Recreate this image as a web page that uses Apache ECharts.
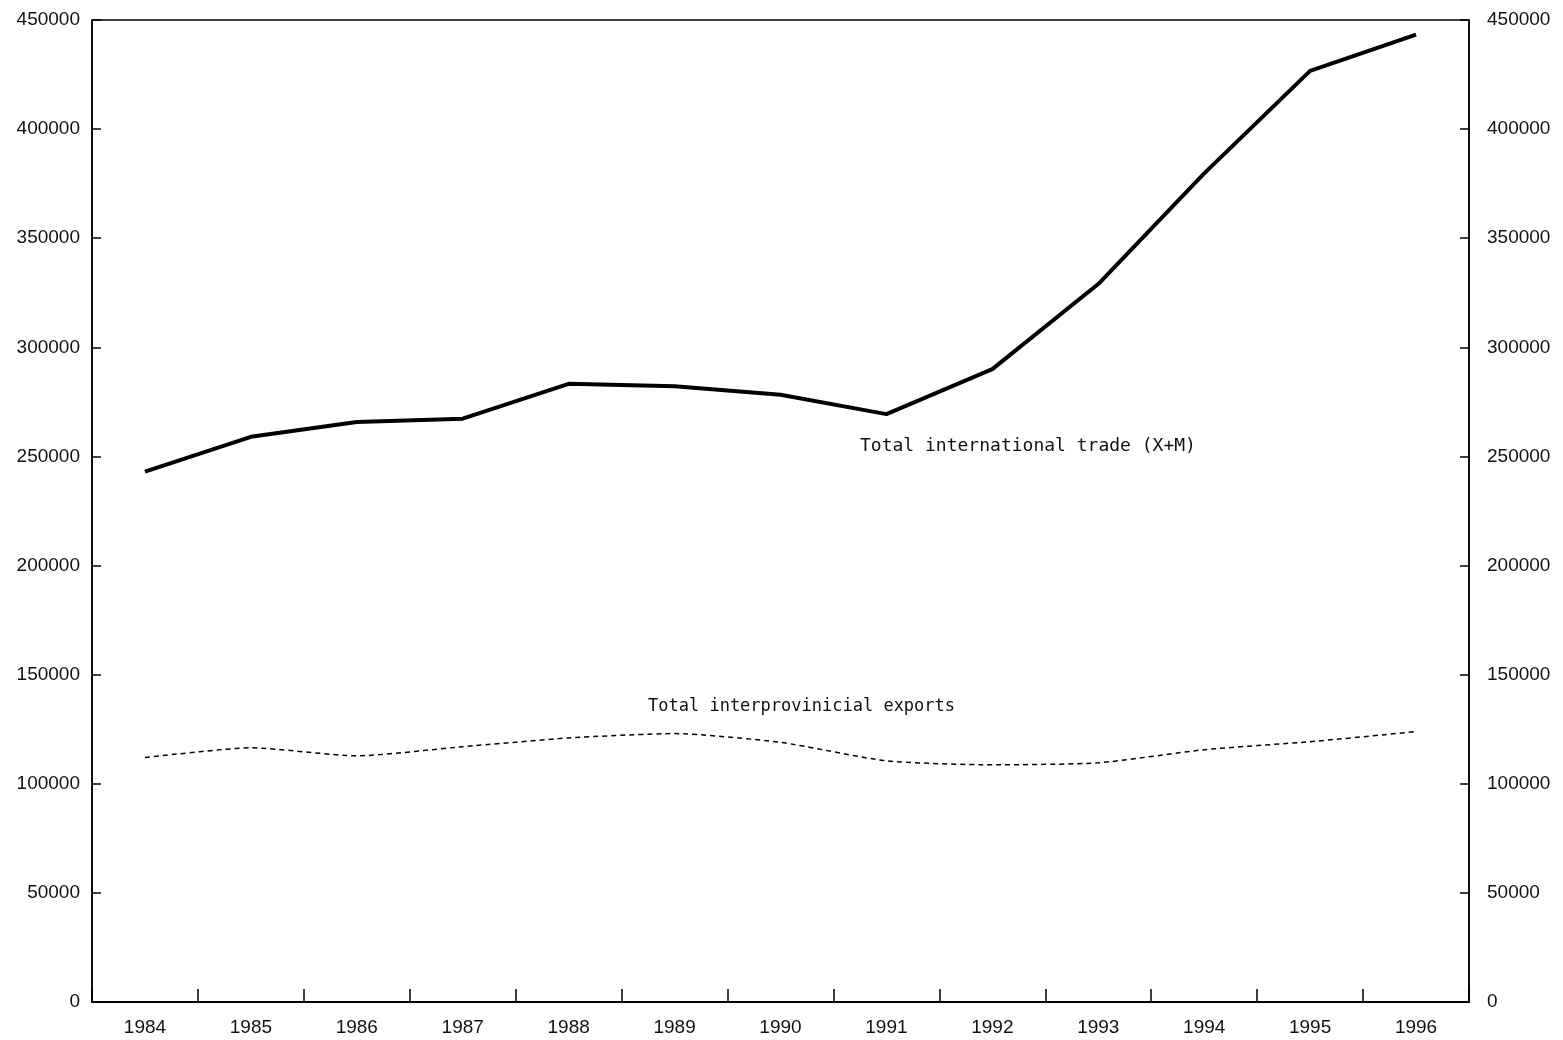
<!DOCTYPE html>
<html>
<head>
<meta charset="utf-8">
<script src="https://cdn.jsdelivr.net/npm/echarts@6/dist/echarts.min.js"></script>
<style>html,body{margin:0;padding:0;background:#fff;}#chart{width:1563px;height:1040px;}</style>
</head>
<body>
<div id="chart"></div>
<script>
const years = ['1984','1985','1986','1987','1988','1989','1990','1991','1992','1993','1994','1995','1996'];
const internationalTrade = [243000, 259000, 265800, 267300, 283300, 282200, 278300, 269400, 290000, 329000, 379700, 426700, 443300];
const interprovincialExports = [112000, 116500, 112800, 117000, 121000, 123000, 119000, 110500, 108700, 109600, 115600, 119300, 123900];
const yTicks = {min: 0, max: 450000, interval: 50000};
const labelTrade = 'Total international trade (X+M)';
const labelInterprov = 'Total interprovinicial exports';

const chart = echarts.init(document.getElementById('chart'));
const axisFont = {fontFamily: 'Liberation Sans', fontSize: 19, color: '#111'};
function yAxisDef(pos){
  return {
    type: 'value', position: pos, min: yTicks.min, max: yTicks.max, interval: yTicks.interval,
    axisLine: {show: true, lineStyle: {color: '#000', width: 1.5}},
    axisTick: {show: true, inside: true, length: 9, lineStyle: {color: '#000', width: 1.5}},
    splitLine: {show: false},
    axisLabel: Object.assign({margin: pos === 'left' ? 12 : 18, formatter: v => String(v)}, axisFont)
  };
}
chart.setOption({
  animation: false,
  backgroundColor: '#fff',
  grid: {left: 92, right: 94, top: 20, bottom: 38, show: true, borderColor: '#000', borderWidth: 1.5, containLabel: false},
  xAxis: {
    type: 'category', data: years, boundaryGap: true,
    axisLine: {show: true, lineStyle: {color: '#000', width: 2}},
    axisTick: {show: true, inside: true, length: 13, lineStyle: {color: '#000', width: 1.5}},
    axisLabel: Object.assign({margin: 16}, axisFont),
    splitLine: {show: false}
  },
  yAxis: [yAxisDef('left'), yAxisDef('right')],
  series: [
    {type: 'line', name: labelTrade, data: internationalTrade, yAxisIndex: 0, symbol: 'none',
     lineStyle: {color: '#000', width: 4}},
    {type: 'line', name: labelInterprov, data: interprovincialExports, yAxisIndex: 0, symbol: 'none',
     smooth: 0.2, lineStyle: {color: '#000', width: 1.5, type: [5, 4]}}
  ],
  graphic: [
    {type: 'text', left: 860, top: 437, style: {text: labelTrade, font: '18px "DejaVu Sans Mono"', fill: '#111'}},
    {type: 'text', left: 648, top: 698, style: {text: labelInterprov, font: '17px "DejaVu Sans Mono"', fill: '#111'}}
  ]
});
</script>
</body>
</html>
